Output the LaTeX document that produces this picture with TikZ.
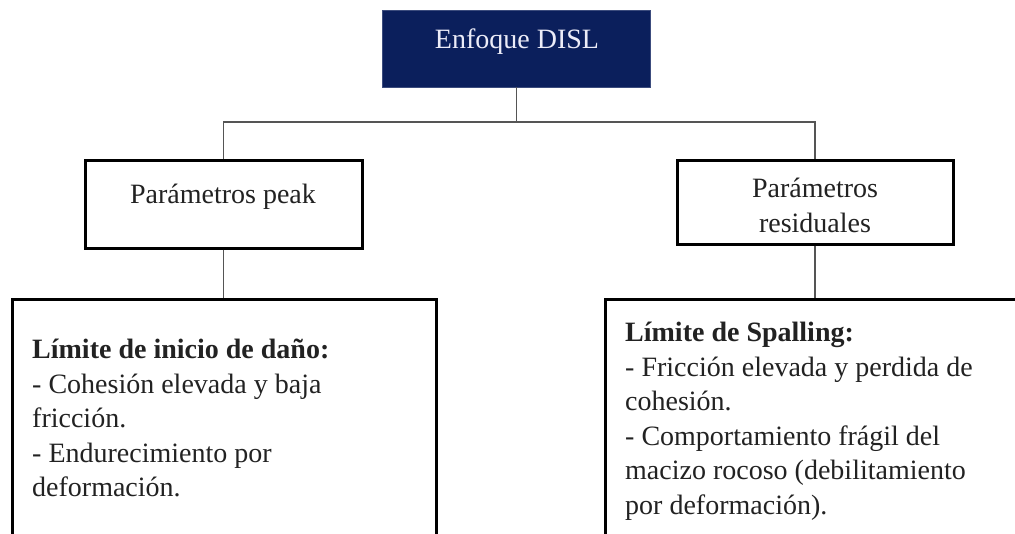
\documentclass[tikz,border=0pt]{standalone}
\usepackage{fontspec}
\setmainfont{Liberation Serif}
\definecolor{navy}{RGB}{11,31,92}
\definecolor{lavtext}{RGB}{236,236,248}
\definecolor{txt}{RGB}{34,34,34}
\definecolor{conn}{RGB}{85,85,85}
\begin{document}
\begin{tikzpicture}[x=1pt,y=-1pt,
  box/.style={draw=black,line width=3pt,fill=white,rectangle,inner sep=0pt},
  topbox/.style={draw=navy!80!white,line width=0.8pt,fill=navy,rectangle,inner sep=0pt},
  conline/.style={draw=conn,line width=1.3pt},
  lbl/.style={font=\fontsize{28}{35}\selectfont,text=txt,inner sep=0pt,anchor=base},
  para/.style={font=\fontsize{28}{34.5}\selectfont,text=txt,inner sep=0pt,anchor=north west,align=left}]
\useasboundingbox (0,0) rectangle (1015,533);
\clip (0,0) rectangle (1015,533);
% boxes
\node[topbox,minimum width=268pt,minimum height=77pt] (top) at (516.5,48.5) {};
\node[box,minimum width=277pt,minimum height=88pt] (lmid) at (223.5,204) {};
\node[box,minimum width=276pt,minimum height=84pt] (rmid) at (815,202) {};
\node[box,minimum width=424pt,minimum height=260pt,anchor=north west] (lbot) at (11,298) {};
\node[box,minimum width=430pt,minimum height=260pt,anchor=north west] (rbot) at (604,298) {};
% connectors
\coordinate (j) at (top.south |- 0,122);
\coordinate (jl) at (lmid.north |- j);
\coordinate (jr) at (rmid.north |- j);
\draw[conline] (top.south) -- (j);
\draw[conline] (lmid.north) -- (jl) -- (jr) -- (rmid.north);
\draw[conline] (lmid.south) -- (lmid.south |- lbot.north);
\draw[conline] (rmid.south) -- (rmid.south |- rbot.north);
% texts
\node[lbl,text=lavtext] (ttop) at (517,48) {Enfoque DISL};
\node[lbl] (tlmid) at (223,203) {Parámetros peak};
\node[lbl] (trmid1) at (815,197) {Parámetros};
\node[lbl] (trmid2) at (815,232) {residuales};
\node[para] (tlbot) at (32,339) {\textbf{Límite de inicio de daño:}\\- Cohesión elevada y baja\\fricción.\\- Endurecimiento por\\deformación.};
\node[para] (trbot) at (625,322) {\textbf{Límite de Spalling:}\\- Fricción elevada y perdida de\\cohesión.\\- Comportamiento frágil del\\macizo rocoso (debilitamiento\\por deformación).};
\end{tikzpicture}
\end{document}
